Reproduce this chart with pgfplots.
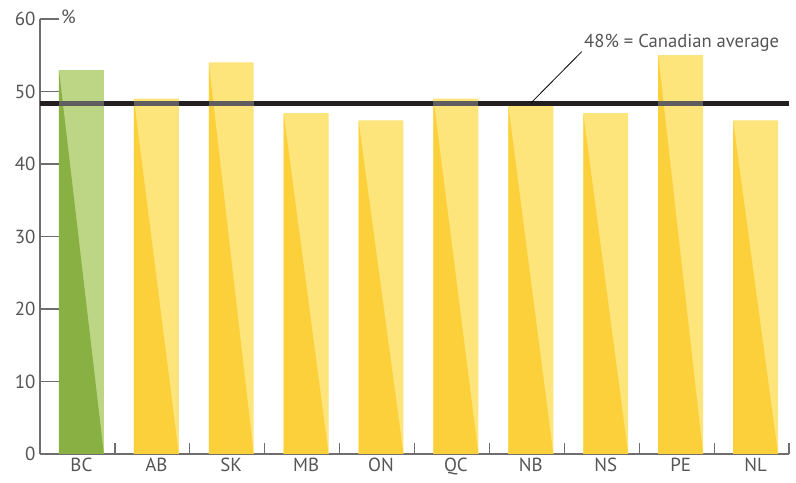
\documentclass[border=0pt]{standalone}
\usepackage{pgfplots}
\pgfplotsset{compat=1.18}
\usepackage{fontspec}
\setmainfont{PT Sans}

\definecolor{grnD}{HTML}{88B043}
\definecolor{grnL}{HTML}{BDD686}
\definecolor{ylwD}{HTML}{FBD03A}
\definecolor{ylwL}{HTML}{FDE47B}
\definecolor{axgray}{HTML}{6E6E6E}
\definecolor{txtgray}{HTML}{555555}
\definecolor{avg}{HTML}{231F20}

\begin{document}
\begin{tikzpicture}
\begin{axis}[
    scale only axis, width=749bp, height=435bp,
    xmin=-0.553, xmax=9.447, ymin=0, ymax=60,
    axis x line=bottom, axis y line=left,
    axis line style={axgray, line width=1.2bp, -},
    every tick/.style={axgray, line width=1.2bp},
    tick align=inside,
    xtick={0,...,9},
    xticklabels={BC,AB,SK,MB,ON,QC,NB,NS,PE,NL},
    major x tick style={draw=none},
    minor xtick={0.447,1.447,...,9.447},
    minor tick length=11bp,
    ytick={0,10,...,60},
    major tick length=19bp,
    tick label style={font=\fontsize{19}{22}\selectfont, text=txtgray},
    /pgf/number format/assume math mode=true,
    yticklabel style={xshift=-1bp},
    xticklabel style={yshift=-1bp},
    clip=false,
]
% light part of the bars
\addplot[ybar, bar width=0.6, bar shift=0pt, fill=grnL, draw=none]
  coordinates {(0,53)};
\addplot[ybar, bar width=0.6, bar shift=0pt, fill=ylwL, draw=none]
  coordinates {(1,49) (2,54) (3,47) (4,46) (5,49) (6,48) (7,47) (8,55) (9,46)};
% darker diagonal part of each bar
\addplot[fill=grnD, draw=none] coordinates {(-0.3,53) (-0.3,0) (0.3,0)} -- cycle;
\foreach \i/\v in {1/49,2/54,3/47,4/46,5/49,6/48,7/47,8/55,9/46}{
  \edef\tmp{\noexpand\addplot[fill=ylwD, draw=none]
    coordinates {(\i-0.3,\v) (\i-0.3,0) (\i+0.3,0)} -- cycle;}
  \tmp
}
% Canadian average
\addplot[avg, line width=5bp] coordinates {(-0.553,48.4) (9.447,48.4)};
% the bars that reach over the line show it lighter
\foreach \i in {0,1,2,5,8}{
  \edef\tmp{\noexpand\addplot[fill=white, fill opacity=0.28, draw=none]
    coordinates {(\i-0.3,48.06) (\i-0.3,48.74) (\i+0.3,48.74) (\i+0.3,48.06)} -- cycle;}
  \tmp
}
\addplot[black, line width=0.8bp] coordinates {(6,48.4) (6.68,55.5)};
\node[anchor=base west, text=txtgray, font=\fontsize{18.7}{21}\selectfont, inner sep=0pt]
  at (axis cs:6.71,56.0) {48\% = Canadian average};
\node[anchor=west, text=txtgray, font=\fontsize{19}{22}\selectfont, inner sep=0pt]
  at (axis cs:-0.553,60) [xshift=21bp, yshift=2bp] {\%};
\coordinate (sw) at (rel axis cs:0,0);
\coordinate (ne) at (rel axis cs:1,1);
\end{axis}
\pgfresetboundingbox
\path ([shift={(-40bp,-29bp)}]sw) rectangle ([shift={(7bp,19bp)}]ne);
\end{tikzpicture}
\end{document}
